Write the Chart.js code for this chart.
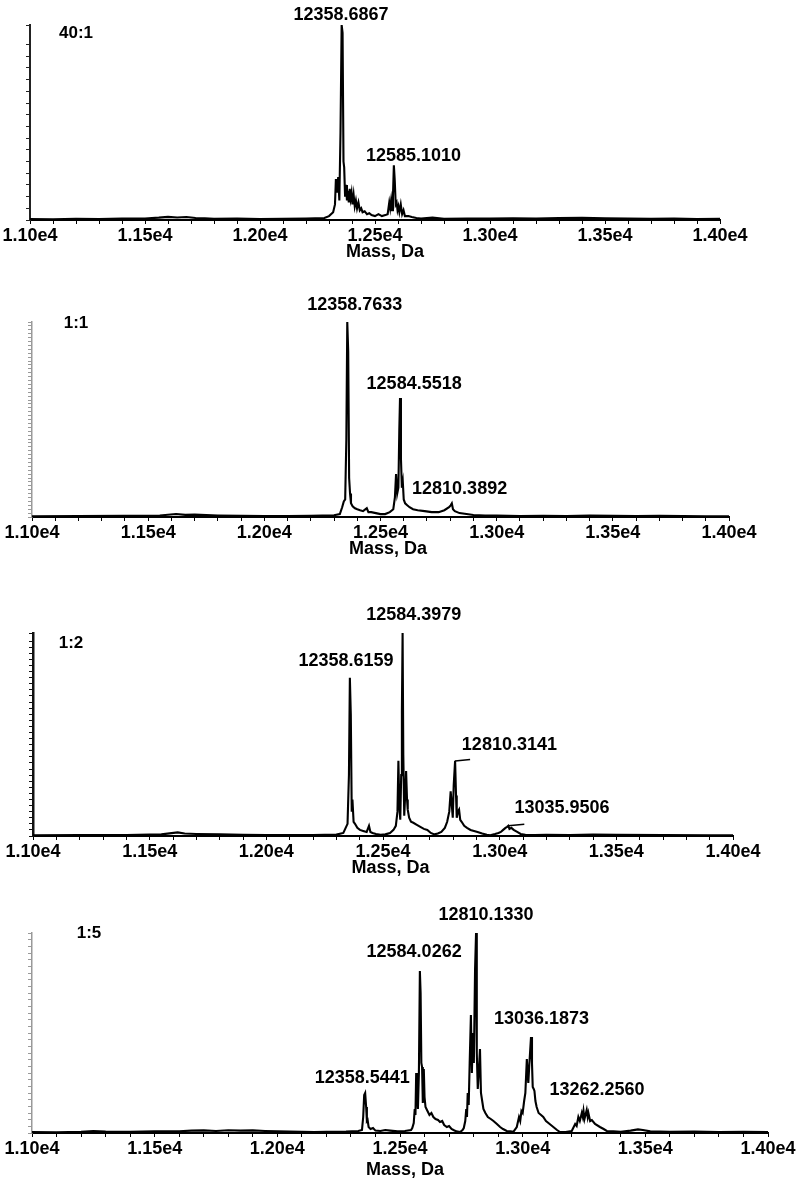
<!DOCTYPE html>
<html>
<head>
<meta charset="utf-8">
<script src="https://cdn.jsdelivr.net/npm/chart.js@4.4.1/dist/chart.umd.min.js"></script>
<style>
  html, body { margin: 0; padding: 0; background: #fff; }
  #page { position: relative; width: 800px; height: 1189px; overflow: hidden; }
  #page canvas { position: absolute; left: 0; }
</style>
</head>
<body>
<div id="page">
  <canvas id="p1" width="800" height="263" style="top:0px"></canvas>
  <canvas id="p2" width="800" height="280" style="top:280px"></canvas>
  <canvas id="p3" width="800" height="289" style="top:590px"></canvas>
  <canvas id="p4" width="800" height="291" style="top:890px"></canvas>
</div>
<script>
// deconvoluted spectra, relative intensity in % of the y axis
const masses1 = [11000,11100,11200,11300,11400,11500,11560,11600,11640,11680,11720,11760,11800,11900,
  12000,12100,12200,12280,12300,12318,12326,12330,12335,12340,12345,12350,12355,12359,12363,12366,12370,
  12374,12378,12382,12386,12390,12394,12398,12402,12407,12412,12417,12422,12428,12434,12440,12446,12455,
  12465,12475,12485,12500,12515,12530,12545,12555,12562,12566,12570,12574,12578,12582,12586,12590,12594,
  12598,12602,12606,12612,12618,12624,12630,12645,12660,12680,12700,12750,12800,12900,13000,13100,13200,
  13300,13400,13500,13600,13700,13800,13900,14000];
const intensity1 = [0.5,0.4,0.6,0.5,0.7,0.8,1.2,1.6,1.3,1.5,1.0,0.9,0.6,0.7,
  0.5,0.6,0.8,1.0,2.0,4.0,8,21,14,22,10,45,100,96,30,27,12,
  18,10,15,9,16,11,14,8,13,7,10,6,9,5,6,4,4.5,
  3,3.5,2.5,2,3,2,2.5,3,9,6,10,5,12,28,20,8,9,
  5,7,4,8,3,5,2,2,1.5,1.0,0.8,1.2,0.6,0.8,0.7,0.9,0.8,
  1.0,1.1,0.9,0.8,0.6,0.7,0.5,0.6];

const masses2 = [11000,11200,11400,11550,11620,11660,11700,11800,11900,12000,
  12100,12200,12300,12325,12335,12342,12348,12353,12357,12361,
  12365,12369,12373,12380,12390,12400,12412,12425,12441,12448,
  12460,12480,12500,12520,12540,12555,12562,12567,12572,12577,
  12581,12584,12588,12592,12596,12600,12606,12615,12625,12640,
  12660,12690,12720,12750,12775,12795,12802,12807,12812,12820,
  12840,12870,12900,12950,13000,13100,13200,13300,13400,13500,
  13600,13700,13800,13900,14000];
const intensity2 = [0.4,0.5,0.6,0.8,1.5,1.1,1.2,0.8,0.6,0.5,
  0.5,0.6,0.9,1.5,5,8,9,40,100,85,
  20,12,7,5.5,4.5,4,3.5,3,4.5,2.5,
  2.5,2,1.5,1.5,2.5,4,10,22,12,15,
  45,61,30,15,18,9,7,6,5,4,
  3.5,3,2.5,2.5,3.5,5,6,7,4,3,
  2,1.5,1,0.8,0.7,0.5,0.6,0.5,0.7,0.6,
  0.5,0.6,0.5,0.4,0.4];

const masses3 = [11000,11200,11400,11550,11620,11650,11700,11800,11900,12000,
  12200,12300,12330,12340,12348,12354,12358,12362,12366,12369,
  12374,12380,12390,12401,12415,12430,12440,12446,12455,12470,
  12490,12510,12530,12545,12555,12562,12566,12570,12574,12578,
  12581,12584,12587,12591,12595,12599,12603,12606,12612,12620,
  12630,12645,12660,12675,12690,12705,12720,12735,12750,12765,
  12775,12784,12790,12795,12799,12803,12809,12813,12816,12821,
  12826,12831,12837,12848,12860,12875,12890,12905,12925,12945,
  12960,12980,12995,13005,13015,13025,13032,13037,13042,13050,
  13060,13075,13090,13110,13150,13200,13300,13400,13500,13700,
  13900,14000];
const intensity3 = [0.4,0.5,0.5,0.8,1.8,1.2,1.0,0.8,0.6,0.5,
  0.5,0.7,1.5,4,6,30,78,60,12,18,
  7,6,4,3,2.5,2,5,2,1.5,1,
  0.6,0.8,1.5,3,5,12,37,15,8,30,
  62,100,40,10,20,32,18,13,9,7,
  6.5,5.5,4.5,3.5,3,1.5,0.8,1.2,2,4,
  7,12,22,15,9,25,37,20,9,12,
  13,8,7,5,4,3,2.5,2,1.2,0.6,
  0.4,1,1.5,2,3,4,4.5,5,3.5,4,
  3,2,1,0.6,0.5,0.6,0.5,0.7,0.6,0.5,
  0.4,0.4];

const masses4 = [11000,11100,11200,11250,11300,11400,11500,11600,11650,11700,
  11750,11800,11850,11900,11950,12000,12050,12100,12150,12200,
  12280,12330,12345,12350,12354,12358,12362,12365,12368,12372,
  12380,12390,12400,12420,12440,12460,12490,12520,12545,12550,
  12556,12560,12563,12566,12569,12573,12577,12581,12584,12587,
  12590,12593,12597,12600,12604,12612,12620,12628,12636,12645,
  12655,12663,12672,12680,12691,12700,12710,12718,12730,12745,
  12755,12760,12766,12770,12773,12776,12780,12784,12789,12793,
  12797,12801,12806,12810,12813,12817,12821,12826,12830,12835,
  12840,12848,12858,12870,12881,12895,12908,12920,12935,12950,
  12962,12976,12985,12990,12995,13000,13006,13011,13017,13020,
  13023,13027,13031,13034,13038,13041,13045,13048,13052,13057,
  13065,13075,13084,13095,13110,13125,13140,13152,13175,13200,
  13214,13220,13227,13233,13241,13245,13248,13252,13256,13261,
  13265,13268,13275,13282,13295,13315,13330,13343,13370,13400,
  13440,13470,13490,13520,13600,13700,13800,13900,14000];
const intensity4 = [0.5,0.4,0.6,1.0,0.7,0.6,0.8,0.9,1.2,1.3,
  1.0,1.4,1.2,1.3,1.0,0.8,0.7,0.6,0.5,0.6,
  0.7,1.0,1.5,8,19,20,13,6,6.5,3,
  2,2.5,1.2,1,1.5,1.2,0.8,1.0,1.5,2.5,
  5,12,9,30,20,12,30,81,70,35,
  33,15,32,18,13,11,9,10,8,7,
  6.5,5.5,6,4,3,3.5,2,1.5,0.8,0.5,
  1.5,2.5,6,12,8,20,14,35,59,30,
  50,35,82,100,40,22,30,42,20,16,
  12,10,8,7,6,4.5,3,2,1,0.8,
  0.6,3,8,6,11,10,16,20,37,30,
  25,34,42,48,35,23,22,21,16,13,
  10,9,8,6,4.5,3,1.5,0.5,0.5,1,
  4.5,3.5,8,6,10,8,11,7,9,11.5,
  8,10,6,6.5,4.5,3,2,1,0.8,0.6,
  1.2,1.8,1.5,0.8,0.6,0.7,0.5,0.6,0.5];

const ratioLabels = ['40:1', '1:1', '1:2', '1:5'];
const peakLabels1 = ['12358.6867', '12585.1010'];
const peakLabels2 = ['12358.7633', '12584.5518', '12810.3892'];
const peakLabels3 = ['12358.6159', '12584.3979', '12810.3141', '13035.9506'];
const peakLabels4 = ['12358.5441', '12584.0262', '12810.1330', '13036.1873', '13262.2560'];

const FONT = '"Liberation Sans", Arial, Helvetica, sans-serif';

// where each panel sits on the page, and how its labels are nudged
const panels = [
  { id: 'p1', masses: masses1, values: intensity1, labels: peakLabels1,
    padTop: 25, left: 30, right: 80, axisH: 43, yStep: 6, yColor: '#222', yBorder: 2, titleShift: 4,
    tagAt: [46, 8], offsets: [[-1.5, -9.5], [19, -9.5]] },
  { id: 'p2', masses: masses2, values: intensity2, labels: peakLabels2,
    padTop: 42, left: 32, right: 71, axisH: 43, yStep: 2, yColor: '#999', yBorder: 1.5, titleShift: 3,
    tagAt: [44, 1], offsets: [[7, -17], [14, -14], [7, -14]] },
  { id: 'p3', masses: masses3, values: intensity3, labels: peakLabels3,
    padTop: 43, left: 33, right: 67, axisH: 43, yStep: 3, yColor: '#111', yBorder: 2.5, titleShift: 3,
    tagAt: [38, 10.5], offsets: [[-4, -17], [11, -18], [54, -16, 15], [54, -18, 16]] },
  { id: 'p4', masses: masses4, values: intensity4, labels: peakLabels4,
    padTop: 43, left: 32, right: 32, axisH: 48, yStep: 10 / 3, yColor: '#999', yBorder: 1.5, titleShift: 2,
    tagAt: [57, 0], offsets: [[-3, -14.5], [-6.5, -18.5], [10, -18], [10, -17.5], [10, -19.5]] }
];

const peakLabelPlugin = {
  id: 'peakLabels',
  afterDatasetsDraw(chart, args, opts) {
    const { ctx, chartArea, scales: { x, y } } = chart;
    const points = chart.data.datasets[0].data;
    ctx.save();
    ctx.fillStyle = '#000';
    ctx.strokeStyle = '#000';
    ctx.textAlign = 'center';
    ctx.textBaseline = 'middle';
    ctx.font = `bold 17px ${FONT}`;
    ctx.fillText(opts.tag, chartArea.left + opts.tagAt[0], chartArea.top + opts.tagAt[1]);

    ctx.font = `bold 18px ${FONT}`;
    opts.labels.forEach((text, i) => {
      const m = parseFloat(text);
      let top = 0, topMass = m;
      for (const p of points) {
        if (Math.abs(p.x - m) <= 8 && p.y > top) { top = p.y; topMass = p.x; }
      }
      const px = x.getPixelForValue(m);
      const py = y.getPixelForValue(top);
      const [dx, dy, lead] = opts.offsets[i];
      ctx.fillText(text, px + dx, py + dy);
      if (lead) {
        const sx = x.getPixelForValue(topMass);
        ctx.lineWidth = 1.5;
        ctx.beginPath();
        ctx.moveTo(sx, py);
        ctx.lineTo(sx + lead, py - 1.5);
        ctx.stroke();
      }
    });
    ctx.restore();
  }
};

panels.forEach((P, n) => {
  if (P.masses.length !== P.values.length) {
    console.error(`Panel ${P.id} data length mismatch`, P.masses.length, P.values.length);
    return;
  }
  const points = P.masses.map((m, i) => ({ x: m, y: P.values[i] }));

  new Chart(document.getElementById(P.id), {
    type: 'line',
    data: {
      datasets: [{
        data: points,
        borderColor: '#000',
        borderWidth: 2.1,
        pointRadius: 0,
        tension: 0,
        fill: false
      }]
    },
    plugins: [peakLabelPlugin],
    options: {
      responsive: false,
      animation: false,
      devicePixelRatio: 1,
      layout: { padding: { top: P.padTop, left: 0, right: P.right, bottom: 0 } },
      plugins: {
        legend: { display: false },
        tooltip: { enabled: false },
        peakLabels: { tag: ratioLabels[n], tagAt: P.tagAt, labels: P.labels, offsets: P.offsets }
      },
      scales: {
        x: {
          type: 'linear',
          min: 11000,
          max: 14000,
          afterFit: s => { s.height = P.axisH; },
          border: { display: true, color: '#000', width: 2 },
          grid: { display: true, drawOnChartArea: false, drawTicks: true, tickLength: 4, color: '#000', lineWidth: 1 },
          ticks: {
            stepSize: 100,
            autoSkip: false,
            maxRotation: 0,
            minRotation: 0,
            padding: 1,
            color: '#000',
            font: { family: FONT, size: 18, weight: 'bold' },
            callback: v => (v % 500 === 0 ? (v / 1e4).toFixed(2) + 'e4' : '')
          },
          title: {
            display: true,
            text: '\u00a0'.repeat(P.titleShift) + 'Mass, Da',
            color: '#000',
            padding: 0,
            font: { family: FONT, size: 18, weight: 'bold' }
          }
        },
        y: {
          type: 'linear',
          min: 0,
          max: 100,
          afterFit: s => { s.width = P.left; },
          border: { display: true, color: P.yColor, width: P.yBorder },
          grid: { display: true, drawOnChartArea: false, drawTicks: true, tickLength: 4, color: P.yColor, lineWidth: 1 },
          ticks: { display: false, stepSize: P.yStep }
        }
      }
    }
  });
});
</script>
</body>
</html>
